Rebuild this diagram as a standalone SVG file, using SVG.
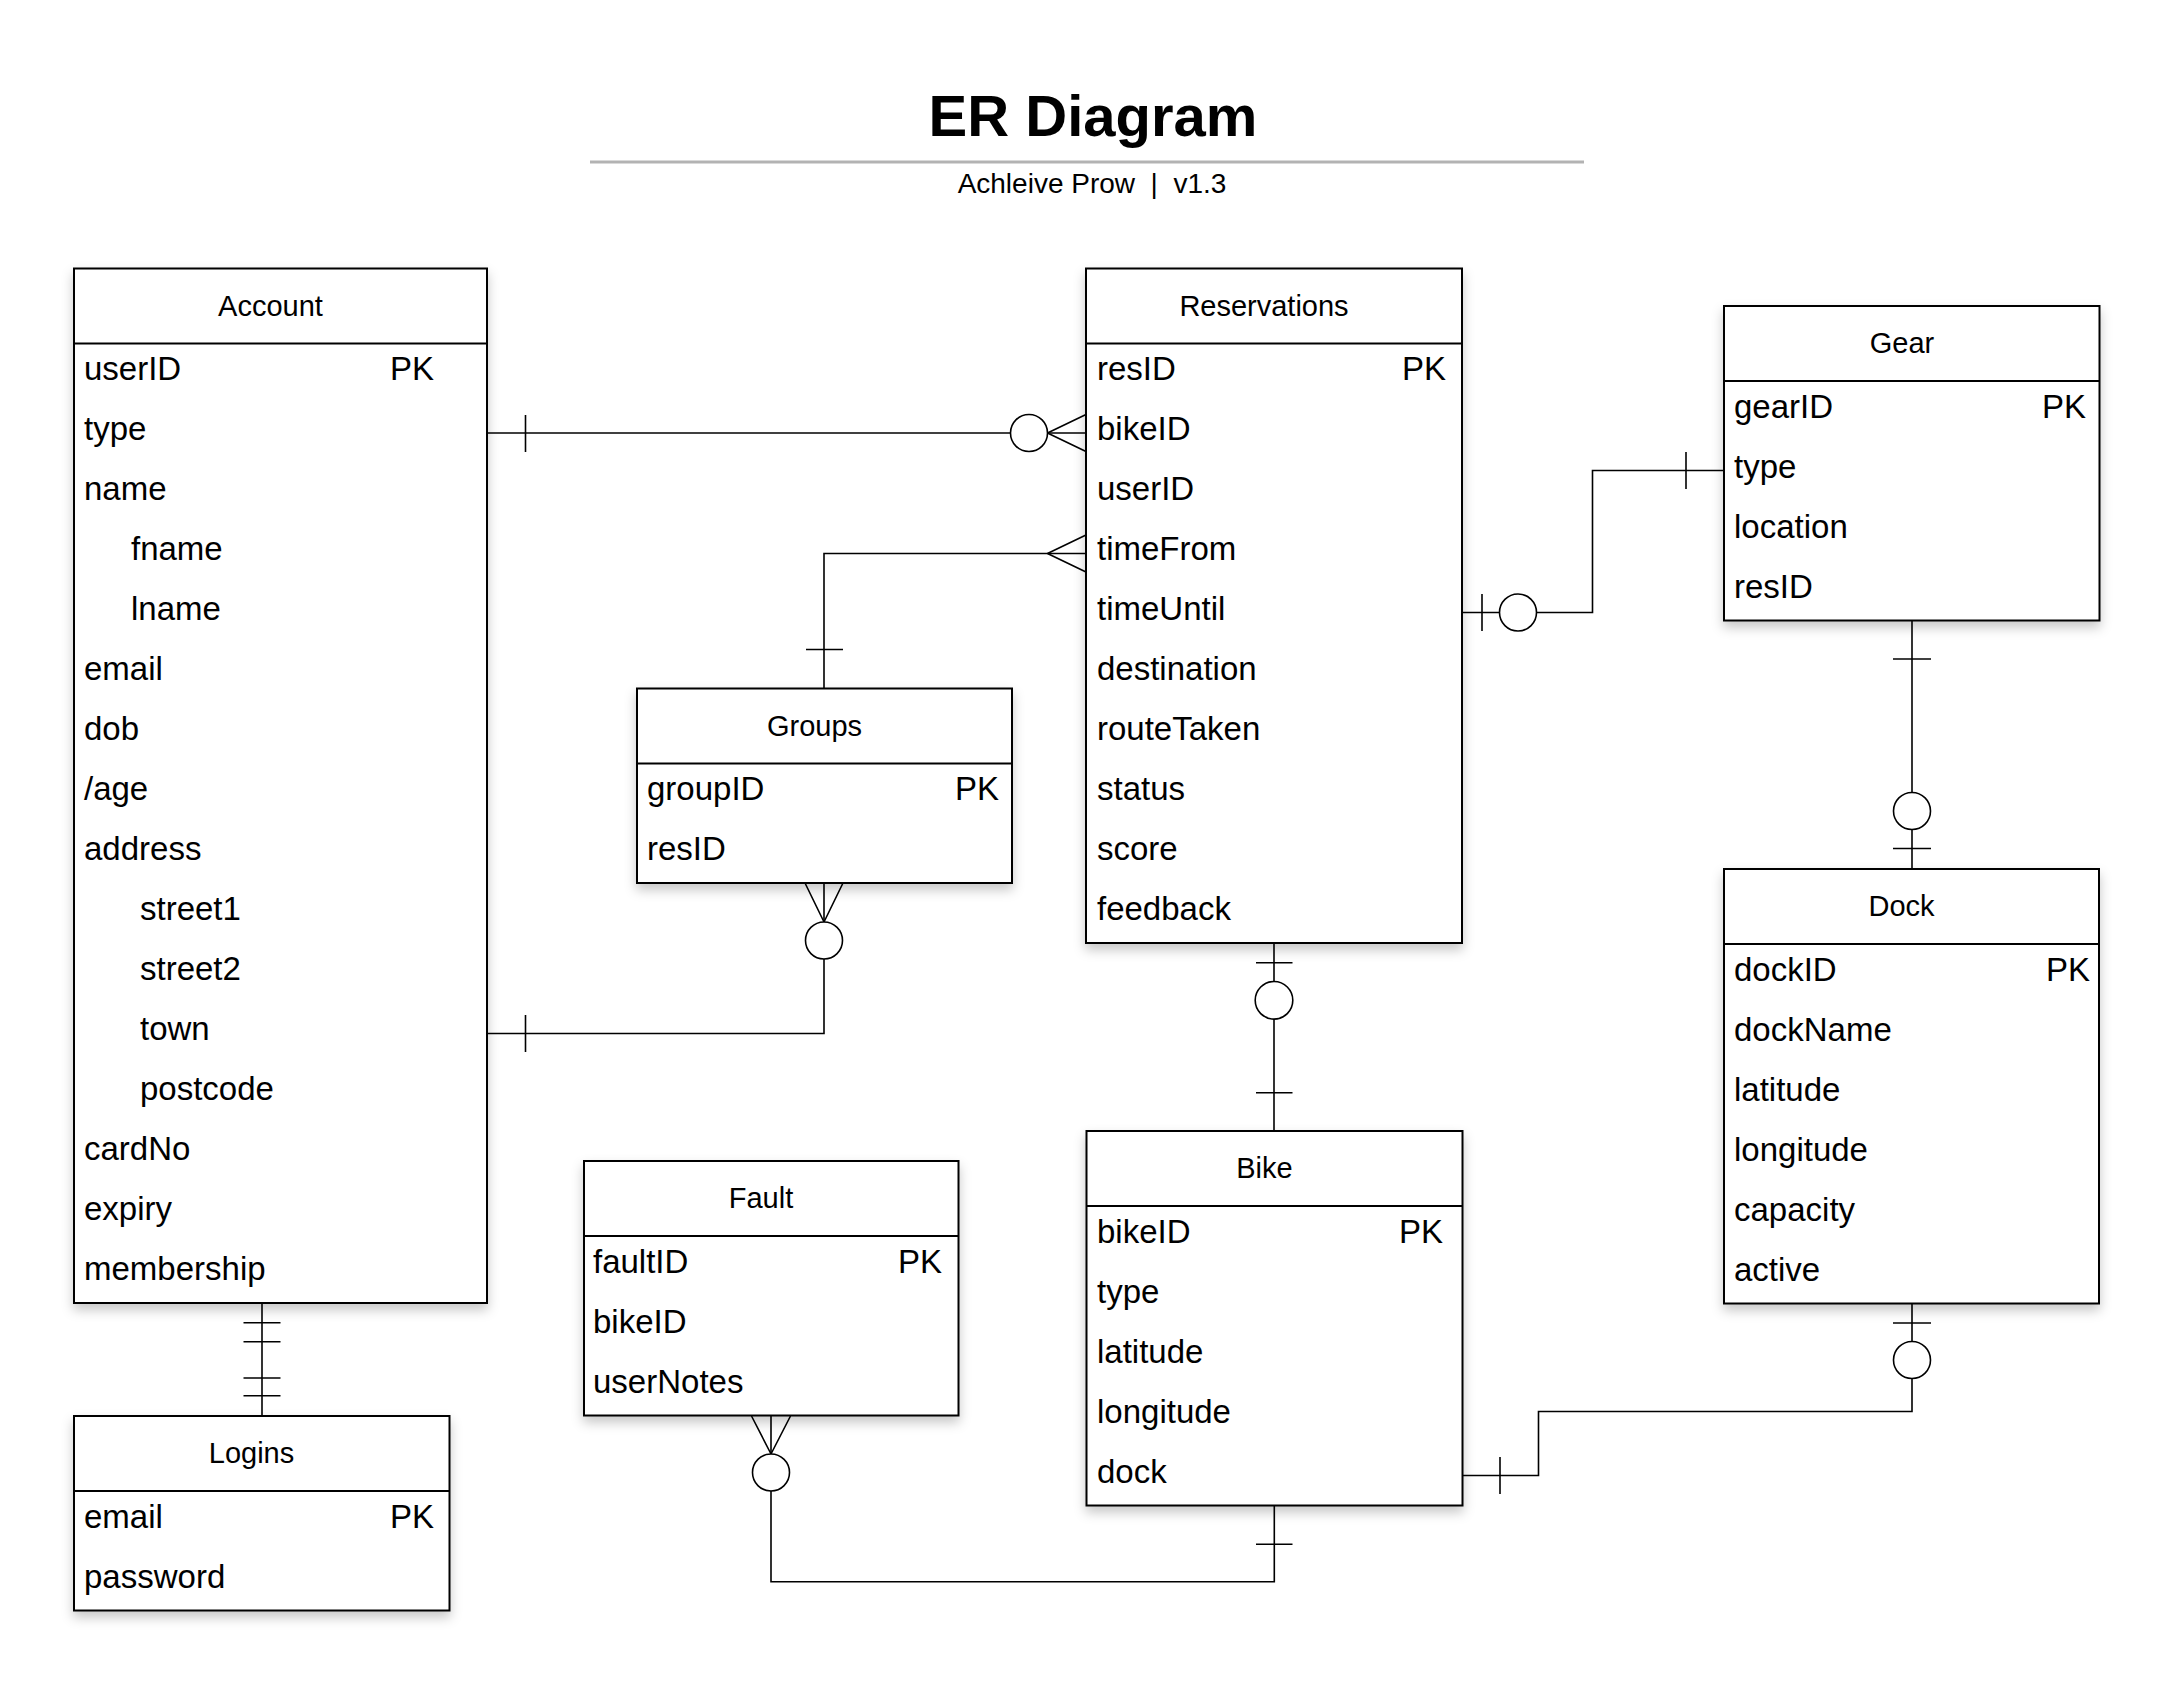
<svg xmlns="http://www.w3.org/2000/svg" width="2175" height="1686" viewBox="0 0 2175 1686">
<defs>
<filter id="sh" x="-10%" y="-10%" width="130%" height="130%">
<feDropShadow dx="0" dy="6" stdDeviation="6" flood-color="#000" flood-opacity="0.22"/>
</filter>
<style>
text{font-family:"Liberation Sans",Arial,sans-serif;fill:#000}
.box{fill:#fff;stroke:#000;stroke-width:2;filter:url(#sh)}
.sep{stroke:#000;stroke-width:2}
.hd{font-size:29px;text-anchor:middle}
.row{font-size:33px}
.cn{fill:none;stroke:#000;stroke-width:1.6}
.cc{fill:#fff;stroke:#000;stroke-width:1.6}
</style>
</defs>
<rect width="2175" height="1686" fill="#fff"/>
<g id="title">
<text x="1093" y="136" font-size="58" font-weight="bold" text-anchor="middle">ER Diagram</text>
<line x1="590" y1="162" x2="1584" y2="162" stroke="#b3b3b3" stroke-width="3"/>
<text x="1092" y="193" font-size="28" text-anchor="middle" xml:space="preserve">Achleive Prow  |  v1.3</text>
</g>
<g id="connectors">
<!-- Account - Reservations -->
<path class="cn" d="M487,433 H1086"/>
<path class="cn" d="M525.5,415 V452"/>
<path class="cn" d="M1047.5,433 L1086,414.5 M1047.5,433 L1086,451.5"/>
<circle class="cc" cx="1029" cy="433" r="18.5"/>
<!-- Groups - Reservations -->
<path class="cn" d="M824,688.5 V553.5 H1086"/>
<path class="cn" d="M806,649.5 H843"/>
<path class="cn" d="M1047.5,553.5 L1086,535 M1047.5,553.5 L1086,572"/>
<!-- Groups - Account -->
<path class="cn" d="M824,883 V1033.5 H487"/>
<path class="cn" d="M805,883 L824,922 M843,883 L824,922"/>
<circle class="cc" cx="824" cy="940.5" r="18.5"/>
<path class="cn" d="M525.5,1015 V1052"/>
<!-- Reservations - Gear -->
<path class="cn" d="M1462,612.5 H1592.5 V470.5 H1724"/>
<path class="cn" d="M1482,594 V631"/>
<circle class="cc" cx="1518" cy="612.5" r="18.5"/>
<path class="cn" d="M1686,452 V489"/>
<!-- Gear - Dock -->
<path class="cn" d="M1912,620.5 V869"/>
<path class="cn" d="M1893,659 H1931"/>
<circle class="cc" cx="1912" cy="811" r="18.5"/>
<path class="cn" d="M1893,848.5 H1931"/>
<!-- Dock - Bike -->
<path class="cn" d="M1912,1303.5 V1411.5 H1538.5 V1475.5 H1462.5"/>
<path class="cn" d="M1893,1323 H1931"/>
<circle class="cc" cx="1912" cy="1360" r="18.5"/>
<path class="cn" d="M1500,1457 V1494"/>
<!-- Reservations - Bike -->
<path class="cn" d="M1274,943 V1131"/>
<path class="cn" d="M1256,962.7 H1292.5"/>
<circle class="cc" cx="1274" cy="1000.3" r="18.8"/>
<path class="cn" d="M1256,1092.7 H1292.5"/>
<!-- Bike - Fault -->
<path class="cn" d="M1274.3,1505.5 V1581.7 H771 V1416"/>
<path class="cn" d="M1256,1544.3 H1292.5"/>
<path class="cn" d="M751.5,1416 L771,1454 M790.5,1416 L771,1454"/>
<circle class="cc" cx="771" cy="1472.5" r="18.5"/>
<!-- Account - Logins -->
<path class="cn" d="M262,1303 V1416"/>
<path class="cn" d="M243.5,1322.7 H280.5 M243.5,1341.7 H280.5 M243.5,1378 H280.5 M243.5,1395.7 H280.5"/>
</g>
<g id="account">
<rect class="box" x="74" y="268.5" width="413" height="1034.5"/>
<line class="sep" x1="74" y1="343.5" x2="487" y2="343.5"/>
<text class="hd" x="270.5" y="315.5">Account</text>
<text class="row" x="84" y="380">userID</text>
<text class="row" x="390" y="380">PK</text>
<text class="row" x="84" y="440">type</text>
<text class="row" x="84" y="500">name</text>
<text class="row" x="131" y="560">fname</text>
<text class="row" x="131" y="620">lname</text>
<text class="row" x="84" y="680">email</text>
<text class="row" x="84" y="740">dob</text>
<text class="row" x="84" y="800">/age</text>
<text class="row" x="84" y="860">address</text>
<text class="row" x="140" y="920">street1</text>
<text class="row" x="140" y="980">street2</text>
<text class="row" x="140" y="1040">town</text>
<text class="row" x="140" y="1100">postcode</text>
<text class="row" x="84" y="1160">cardNo</text>
<text class="row" x="84" y="1220">expiry</text>
<text class="row" x="84" y="1280">membership</text>
</g>
<g id="reservations">
<rect class="box" x="1086" y="268.5" width="376" height="674.5"/>
<line class="sep" x1="1086" y1="343.5" x2="1462" y2="343.5"/>
<text class="hd" x="1264" y="315.5">Reservations</text>
<text class="row" x="1097" y="380">resID</text>
<text class="row" x="1402" y="380">PK</text>
<text class="row" x="1097" y="440">bikeID</text>
<text class="row" x="1097" y="500">userID</text>
<text class="row" x="1097" y="560">timeFrom</text>
<text class="row" x="1097" y="620">timeUntil</text>
<text class="row" x="1097" y="680">destination</text>
<text class="row" x="1097" y="740">routeTaken</text>
<text class="row" x="1097" y="800">status</text>
<text class="row" x="1097" y="860">score</text>
<text class="row" x="1097" y="920">feedback</text>
</g>
<g id="gear">
<rect class="box" x="1724" y="306" width="375.5" height="314.5"/>
<line class="sep" x1="1724" y1="381" x2="2099.5" y2="381"/>
<text class="hd" x="1902" y="353">Gear</text>
<text class="row" x="1734" y="417.5">gearID</text>
<text class="row" x="2042" y="417.5">PK</text>
<text class="row" x="1734" y="477.5">type</text>
<text class="row" x="1734" y="537.5">location</text>
<text class="row" x="1734" y="597.5">resID</text>
</g>
<g id="groups">
<rect class="box" x="637" y="688.5" width="375" height="194.5"/>
<line class="sep" x1="637" y1="763.5" x2="1012" y2="763.5"/>
<text class="hd" x="814.5" y="735.5">Groups</text>
<text class="row" x="647" y="800">groupID</text>
<text class="row" x="955" y="800">PK</text>
<text class="row" x="647" y="860">resID</text>
</g>
<g id="fault">
<rect class="box" x="584" y="1161" width="374.5" height="254.5"/>
<line class="sep" x1="584" y1="1236" x2="958.5" y2="1236"/>
<text class="hd" x="761" y="1208">Fault</text>
<text class="row" x="593" y="1272.5">faultID</text>
<text class="row" x="898" y="1272.5">PK</text>
<text class="row" x="593" y="1332.5">bikeID</text>
<text class="row" x="593" y="1392.5">userNotes</text>
</g>
<g id="bike">
<rect class="box" x="1086.5" y="1131" width="376" height="374.5"/>
<line class="sep" x1="1086.5" y1="1206" x2="1462.5" y2="1206"/>
<text class="hd" x="1264.5" y="1178">Bike</text>
<text class="row" x="1097" y="1242.5">bikeID</text>
<text class="row" x="1399" y="1242.5">PK</text>
<text class="row" x="1097" y="1302.5">type</text>
<text class="row" x="1097" y="1362.5">latitude</text>
<text class="row" x="1097" y="1422.5">longitude</text>
<text class="row" x="1097" y="1482.5">dock</text>
</g>
<g id="dock">
<rect class="box" x="1724" y="869" width="375" height="434.5"/>
<line class="sep" x1="1724" y1="944" x2="2099" y2="944"/>
<text class="hd" x="1901.5" y="916">Dock</text>
<text class="row" x="1734" y="980.5">dockID</text>
<text class="row" x="2046" y="980.5">PK</text>
<text class="row" x="1734" y="1040.5">dockName</text>
<text class="row" x="1734" y="1100.5">latitude</text>
<text class="row" x="1734" y="1160.5">longitude</text>
<text class="row" x="1734" y="1220.5">capacity</text>
<text class="row" x="1734" y="1280.5">active</text>
</g>
<g id="logins">
<rect class="box" x="74" y="1416" width="375.5" height="194.5"/>
<line class="sep" x1="74" y1="1491" x2="449.5" y2="1491"/>
<text class="hd" x="251.5" y="1463">Logins</text>
<text class="row" x="84" y="1527.5">email</text>
<text class="row" x="390" y="1527.5">PK</text>
<text class="row" x="84" y="1587.5">password</text>
</g>
</svg>
